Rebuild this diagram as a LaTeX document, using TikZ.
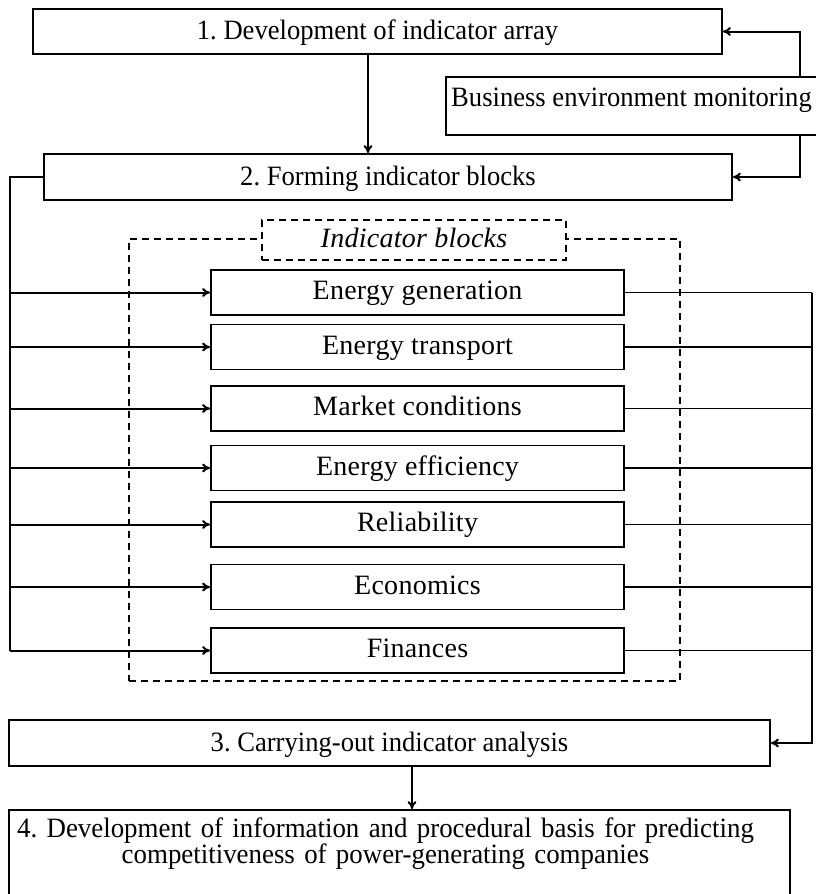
\documentclass[tikz,border=0pt]{standalone}
\usepackage{fontspec}
\setmainfont{Liberation Serif}
\frenchspacing
\usetikzlibrary{arrows.meta,calc}
\begin{document}
\begin{tikzpicture}[x=1pt,y=-1pt,
  box/.style={draw, line width=1.8pt, inner sep=0pt, font=\fontsize{28}{23}\selectfont\addfontfeatures{FakeStretch=0.95}, text height=17pt, text depth=1pt},
  ibox/.style={box, minimum width=413pt, minimum height=45pt, font=\fontsize{28}{23}\selectfont\addfontfeatures{LetterSpace=1}, text height=15pt, text depth=1pt},
  conn/.style={line width=2pt, -{To[length=8pt,width=9pt]}},
  wire/.style={line width=1.8pt},
  dsh/.style={line width=1.6pt, dash pattern=on 7pt off 5pt}]
\useasboundingbox (0,0) rectangle (815,894);

% main boxes
\node[box, minimum width=689pt, minimum height=45pt] (b1) at (377.5,31.5) {1. Development of indicator array};
\node[box, minimum width=371pt, minimum height=58pt, text height=10pt, text depth=10pt] (bem) at (631.5,106) {Business environment monitoring};
\node[box, minimum width=688pt, minimum height=46pt] (b2) at (388,177) {2. Forming indicator blocks};

% group
\node[draw, dsh, inner sep=0pt, minimum width=551pt, minimum height=442pt] (grp) at (404.5,460) {};
\node[draw, dsh, fill=white, inner sep=0pt, minimum width=304pt, minimum height=40pt,
      font=\fontsize{28}{23}\selectfont\itshape\addfontfeatures{LetterSpace=1}, text height=15pt, text depth=1pt] (lab) at (414,240) {Indicator blocks};

% indicator boxes
\node[ibox] (eg) at (417.5,292.5) {Energy generation};
\node[ibox] (et) at (417.5,347) {Energy transport};
\node[ibox] (mc) at (417.5,408.5) {Market conditions};
\node[ibox] (ee) at (417.5,468) {Energy efficiency};
\node[ibox] (rel) at (417.5,524.5) {Reliability};
\node[ibox] (eco) at (417.5,587) {Economics};
\node[ibox] (fin) at (417.5,650.5) {Finances};

\node[box, minimum width=761pt, minimum height=46pt] (b3) at (389.5,743) {3. Carrying-out indicator analysis};
\node[box, minimum width=781pt, minimum height=86pt, text width=781pt, align=center, text height=18pt, text depth=50pt,
      font=\fontsize{28}{23}\selectfont\addfontfeatures{FakeStretch=0.96}] (b4) at (399.5,853)
  {4. Development of information and procedural basis for predicting\kern28pt\\competitiveness of power-generating companies\kern28pt};

% helper coordinates
\coordinate (a12) at (368,0);
\coordinate (a34) at (412,0);
\coordinate (fb) at (800,0);
\coordinate (busL) at (10,177);
\coordinate (busR) at (812,0);

% connectors
\draw[conn] (b1.south -| a12) -- (b2.north -| a12);
\draw[conn] (bem.north -| fb) -- (fb |- b1.east) -- (b1.east);
\draw[conn] (bem.south -| fb) -- (fb |- b2.east) -- (b2.east);

\draw[line width=2pt] (b2.west) -- (busL) -- (busL |- fin.west);
\foreach \n in {eg,et,mc,ee,rel,eco,fin}{
  \draw[conn] (busL |- \n.west) -- (\n.west);
  \draw[wire] (\n.east) -- (busR |- \n.east);
}
\draw[conn] (busR |- eg.east) -- (busR |- b3.east) -- (b3.east);
\draw[conn] (b3.south -| a34) -- (b4.north -| a34);
\end{tikzpicture}
\end{document}
